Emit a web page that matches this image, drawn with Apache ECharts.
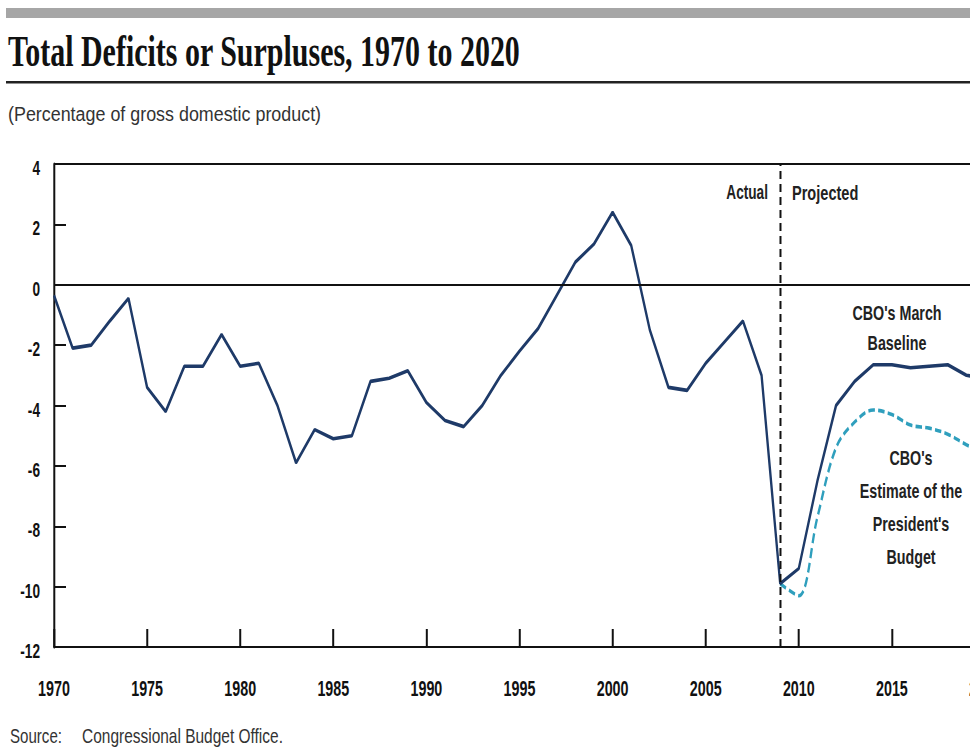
<!DOCTYPE html>
<html>
<head>
<meta charset="utf-8">
<script src="https://cdn.jsdelivr.net/npm/echarts@6/dist/echarts.min.js"></script>
<style>
  html, body { margin: 0; padding: 0; background: #fff; overflow: hidden; width: 970px; height: 752px; }
  #chart { position: absolute; left: 0; top: 0; width: 1492px; height: 752px; transform: scaleX(0.650134); transform-origin: 0 0; }
</style>
</head>
<body>
<div id="chart"></div>
<script>
// ---- data ----
const years = [1970,1971,1972,1973,1974,1975,1976,1977,1978,1979,1980,1981,1982,1983,1984,1985,1986,1987,1988,1989,
  1990,1991,1992,1993,1994,1995,1996,1997,1998,1999,2000,2001,2002,2003,2004,2005,2006,2007,2008,2009,
  2010,2011,2012,2013,2014,2015,2016,2017,2018,2019,2020];
const baselineValues = [-0.35,-2.1,-2.0,-1.2,-0.45,-3.4,-4.2,-2.7,-2.7,-1.65,-2.7,-2.6,-4.0,-5.9,-4.8,-5.1,-5.0,-3.2,-3.1,-2.85,
  -3.9,-4.5,-4.7,-4.0,-3.0,-2.2,-1.45,-0.35,0.75,1.35,2.4,1.3,-1.5,-3.4,-3.5,-2.6,-1.9,-1.2,-3.0,-9.9,
  -9.4,-6.5,-4.0,-3.2,-2.65,-2.65,-2.75,-2.7,-2.65,-3.0,-3.1];
const presidentYears = [2009,2010,2011,2012,2013,2014,2015,2016,2017,2018,2019,2020];
const presidentValues = [-9.9,-10.3,-7.7,-5.4,-4.55,-4.15,-4.3,-4.65,-4.75,-4.95,-5.3,-5.6];
const splitYear = 2009;
const yMin = -12, yMax = 4, yStep = 2;
const xMin = 1970, xMax = 2020, xStep = 5;

const titleText = 'Total Deficits or Surpluses, 1970 to 2020';
const subtitleText = '(Percentage of gross domestic product)';
const sourceLabel = 'Source:';
const sourceText = 'Congressional Budget Office.';
const actualLabel = 'Actual';
const projectedLabel = 'Projected';
const baselineLabel = "CBO's March\nBaseline";
const presidentLabel = "CBO's\nEstimate of the\nPresident's\nBudget";

// ---- layout helpers (page is horizontally compressed) ----
const S = 970 / 1492;
const px = v => v / S;

const navy = '#1e3a68';
const teal = '#2f9fbd';
const ink = '#111';
const sans = 'Liberation Sans, Arial, sans-serif';

const chart = echarts.init(document.getElementById('chart'), null, { renderer: 'svg' });

const annoStyle = { fontFamily: sans, fontWeight: 'bold', fontSize: 20, fill: '#222' };

chart.setOption({
  backgroundColor: '#fff',
  animation: false,
  grid: { left: px(54), top: 164, width: px(985 - 54), height: 483, containLabel: false, outerBoundsMode: 'none' },
  xAxis: {
    type: 'value', min: xMin, max: xMax, interval: xStep,
    axisLine: { show: true, onZero: false, lineStyle: { color: ink, width: 2 } },
    axisTick: { show: true, inside: true, length: 18, lineStyle: { color: ink, width: px(2) } },
    axisLabel: { show: true, margin: 30, color: ink, fontSize: 22, fontWeight: 'bold',
      fontFamily: sans, hideOverlap: false, formatter: v => String(v) },
    splitLine: { show: false }
  },
  yAxis: {
    type: 'value', min: yMin, max: yMax, interval: yStep,
    axisLine: { show: true, onZero: false, lineStyle: { color: ink, width: px(2) } },
    axisTick: { show: true, inside: true, length: px(12), lineStyle: { color: ink, width: 2 } },
    axisLabel: { show: true, margin: px(14), color: ink,
      formatter: v => '{a|' + v + '}',
      rich: { a: { fontSize: 21, fontWeight: 'bold', fontFamily: sans, color: ink, lineHeight: 21, padding: [8, 0, 0, 0] } } },
    splitLine: { show: false }
  },
  series: [
    {
      type: 'line', name: "CBO's March Baseline",
      data: years.map((y, i) => [y, baselineValues[i]]),
      showSymbol: false, smooth: false,
      lineStyle: { color: navy, width: 3.6 },
      z: 3,
      markLine: {
        silent: true, symbol: ['none', 'none'], label: { show: false }, animation: false,
        data: [
          { yAxis: 0, lineStyle: { color: ink, width: 2, type: 'solid' } },
          { yAxis: yMax, lineStyle: { color: ink, width: 2, type: 'solid' } },
          { xAxis: splitYear, lineStyle: { color: ink, width: px(2), type: [8, 5] } }
        ]
      }
    },
    {
      type: 'line', name: "CBO's Estimate of the President's Budget",
      data: presidentYears.map((y, i) => [y, presidentValues[i]]),
      showSymbol: false, smooth: 0.35,
      lineStyle: { color: teal, width: 3.6, type: [10, 5] },
      z: 2
    }
  ],
  graphic: [
    { type: 'rect', shape: { x: px(6), y: 8, width: px(964), height: 10 }, style: { fill: '#a6a6a6' } },
    { type: 'rect', shape: { x: px(6), y: 81, width: px(964), height: 2.5 }, style: { fill: '#222' } },
    { type: 'text', x: px(8), y: 51, scaleX: 1.048,
      style: { text: titleText, fontFamily: 'Liberation Serif, Times New Roman, serif', fontWeight: 'bold', fontSize: 44, fill: '#111', verticalAlign: 'middle', align: 'left' } },
    { type: 'text', x: px(8), y: 113, scaleX: 1.31,
      style: { text: subtitleText, fontFamily: sans, fontSize: 21, fill: '#333', verticalAlign: 'middle', align: 'left' } },
    { type: 'text', x: px(10), y: 736, scaleX: 1.16,
      style: { text: sourceLabel, fontFamily: sans, fontSize: 20, fill: '#333', verticalAlign: 'middle', align: 'left' } },
    { type: 'text', x: px(82), y: 736, scaleX: 1.19,
      style: { text: sourceText, fontFamily: sans, fontSize: 20, fill: '#333', verticalAlign: 'middle', align: 'left' } },
    { type: 'text', x: px(768), y: 193, scaleX: 1.05,
      style: Object.assign({ text: actualLabel, align: 'right', verticalAlign: 'middle' }, annoStyle) },
    { type: 'text', x: px(792), y: 193, scaleX: 1.12,
      style: Object.assign({ text: projectedLabel, align: 'left', verticalAlign: 'middle' }, annoStyle) },
    { type: 'text', x: px(897), y: 328, scaleX: 1.1,
      style: Object.assign({ text: baselineLabel, align: 'center', verticalAlign: 'middle', lineHeight: 30 }, annoStyle) },
    { type: 'text', x: px(911), y: 508, scaleX: 1.1,
      style: Object.assign({ text: presidentLabel, align: 'center', verticalAlign: 'middle', lineHeight: 33 }, annoStyle) }
  ]
});
</script>
</body>
</html>
